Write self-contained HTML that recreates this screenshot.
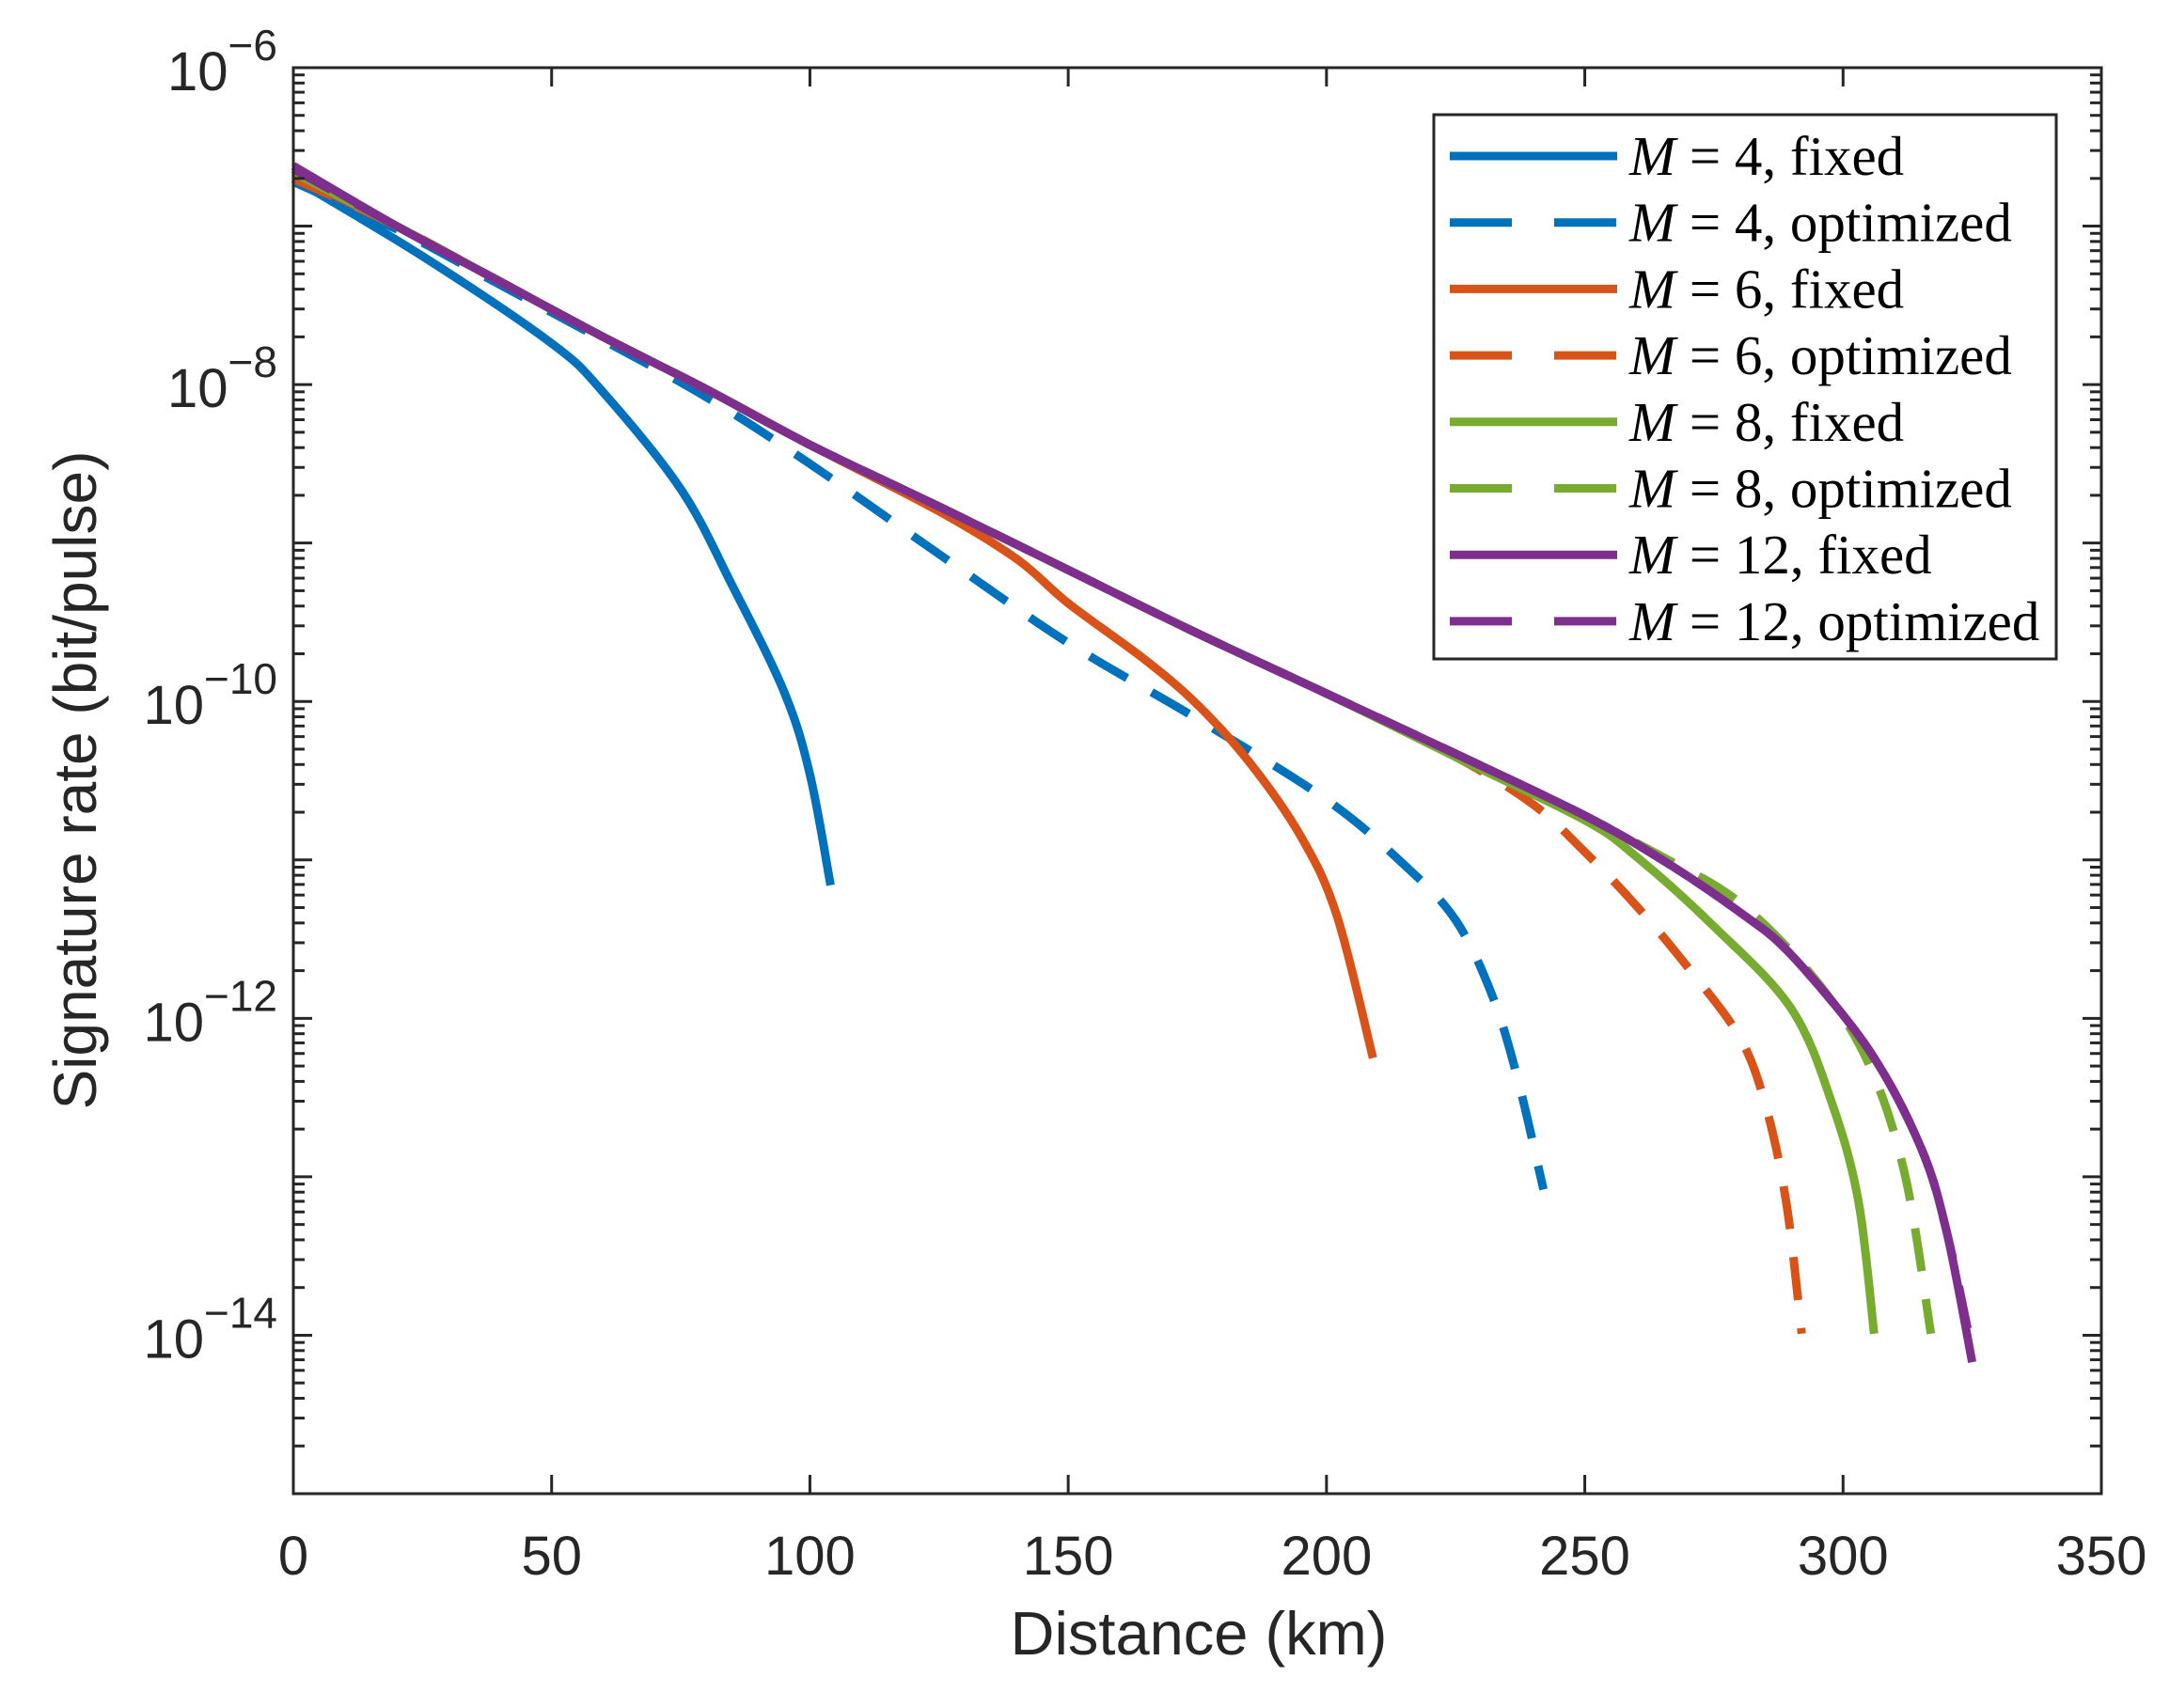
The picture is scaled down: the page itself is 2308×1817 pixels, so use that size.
<!DOCTYPE html>
<html><head><meta charset="utf-8"><style>
body{margin:0;background:#fff}
svg{display:block}
text{font-family:"Liberation Sans",Arial,sans-serif;fill:#262626}
.leg{font-family:"Liberation Serif",serif;fill:#000;font-size:59px}
</style></head><body>
<svg id="chart" width="2308" height="1817" viewBox="0 0 2308 1817" xmlns="http://www.w3.org/2000/svg">
<g id="series"></g>
<rect x="312" y="72" width="1923" height="1517" fill="none" stroke="#262626" stroke-width="3"/>
<g id="ticks"></g>
<text x="1275" y="1760" font-size="65" text-anchor="middle">Distance (km)</text>
<text transform="translate(102,830) rotate(-90)" font-size="64" text-anchor="middle">Signature rate (bit/pulse)</text>
<g id="legend"></g>
</svg>
<script>
const xTicks=[0,50,100,150,200,250,300,350];
const yDecades=[-6,-8,-10,-12,-14];
const seriesNames=["M = 4, fixed","M = 4, optimized","M = 6, fixed","M = 6, optimized","M = 8, fixed","M = 8, optimized","M = 12, fixed","M = 12, optimized"];
const seriesColors=["#0072BD","#0072BD","#D95319","#D95319","#77AC30","#77AC30","#7E2F8E","#7E2F8E"];
const seriesDashed=[false,true,false,true,false,true,false,true];
const m4fX=[0,25,50,60,75,85,95,100,104];
const m4fY=[-6.7,-7.19,-7.74,-8.05,-8.66,-9.27,-9.94,-10.46,-11.16];
const m4oX=[0,20,40,60,80,100,125,150,175,200,215,225,232,237,242];
const m4oY=[-6.72,-7.02,-7.37,-7.72,-8.08,-8.5,-9.07,-9.63,-10.11,-10.62,-11.03,-11.38,-11.85,-12.38,-13.08];
const m6fX=[0,20,40,60,80,100,125,140,150,165,175,185,195,202,209];
const m6fY=[-6.68,-7.0,-7.35,-7.7,-8.03,-8.38,-8.8,-9.1,-9.38,-9.74,-10.02,-10.38,-10.85,-11.35,-12.25];
const m6oX=[0,20,40,60,80,100,125,150,175,200,225,240,250,260,270,280,285,289,292];
const m6oY=[-6.7,-7.0,-7.35,-7.7,-8.03,-8.38,-8.77,-9.17,-9.57,-9.95,-10.35,-10.65,-10.95,-11.29,-11.68,-12.12,-12.55,-13.16,-13.99];
const m8fX=[0,20,40,60,80,100,125,150,175,200,225,250,260,275,290,298,303,306];
const m8fY=[-6.66,-7.0,-7.35,-7.7,-8.03,-8.38,-8.77,-9.17,-9.57,-9.95,-10.35,-10.75,-10.98,-11.42,-11.94,-12.55,-13.16,-13.99];
const m8oX=[0,20,40,60,80,100,125,150,175,200,225,250,265,280,295,305,312,317];
const m8oY=[-6.66,-7.0,-7.35,-7.7,-8.03,-8.38,-8.77,-9.17,-9.57,-9.95,-10.33,-10.73,-10.98,-11.27,-11.77,-12.29,-12.99,-13.99];
const m12fX=[0,20,40,60,80,100,125,150,175,200,225,250,265,280,290,305,315,320,325];
const m12fY=[-6.62,-7.0,-7.35,-7.7,-8.03,-8.38,-8.77,-9.17,-9.57,-9.95,-10.33,-10.72,-11.0,-11.33,-11.6,-12.2,-12.81,-13.34,-14.17];
const m12oY=[-6.64,-7.0,-7.35,-7.7,-8.03,-8.38,-8.77,-9.17,-9.57,-9.95,-10.33,-10.72,-11.0,-11.33,-11.6,-12.2,-12.81,-13.34,-14.1];
const seriesX=[m4fX,m4oX,m6fX,m6oX,m8fX,m8oX,m12fX,m12fX];
const seriesY=[m4fY,m4oY,m6fY,m6oY,m8fY,m8oY,m12fY,m12oY];

const L=312,R=2235,T=72,B=1589,yMin=-15,yMax=-6,xMax=350;
const sx=v=>L+(v/xMax)*(R-L);
const sy=lg=>T+(yMax-lg)/(yMax-yMin)*(B-T);
const NS="http://www.w3.org/2000/svg";
function mk(tag,parent){const e=document.createElementNS(NS,tag);parent.appendChild(e);return e;}

const tg=document.getElementById('ticks');
xTicks.forEach(v=>{
  const x=sx(v);
  [[B,B-20],[T,T+20]].forEach(p=>{const l=mk('line',tg);
    
    
    l.setAttribute('x1',x);l.setAttribute('x2',x);l.setAttribute('y1',p[0]);l.setAttribute('y2',p[1]);l.setAttribute('stroke','#262626');l.setAttribute('stroke-width',3);});
  const t=mk('text',tg);
  
  
  t.setAttribute('x',x);t.setAttribute('y',1675);t.setAttribute('font-size',58);t.setAttribute('text-anchor','middle');t.textContent=v;
});
for(let d=-15;d<-6;d++){
  for(let k=1;k<10;k++){
    const lg=d+Math.log10(k);const y=sy(lg);const len=(k===1)?20:12;
    [[L,L+len],[R,R-len]].forEach(p=>{const l=mk('line',tg);
      
      
      l.setAttribute('x1',p[0]);l.setAttribute('x2',p[1]);l.setAttribute('y1',y);l.setAttribute('y2',y);l.setAttribute('stroke','#262626');l.setAttribute('stroke-width',3);});
  }
}
yDecades.forEach(d=>{
  const y=sy(d);const t=mk('text',tg);
  
  
  t.setAttribute('x',295);t.setAttribute('y',y+24);t.setAttribute('font-size',58);t.setAttribute('text-anchor','end');
  const a=mk('tspan',t);a.textContent='10';
  const b=mk('tspan',t);b.setAttribute('dy',-32);b.setAttribute('font-size',46);b.textContent='\u2212'+(-d);
});

function smooth(pts){
  let d='M'+pts[0][0].toFixed(1)+','+pts[0][1].toFixed(1);
  for(let i=0;i<pts.length-1;i++){
    const p0=pts[Math.max(0,i-1)],p1=pts[i],p2=pts[i+1],p3=pts[Math.min(pts.length-1,i+2)];
    const c1=[p1[0]+(p2[0]-p0[0])/6,p1[1]+(p2[1]-p0[1])/6];
    const c2=[p2[0]-(p3[0]-p1[0])/6,p2[1]-(p3[1]-p1[1])/6];
    d+='C'+c1[0].toFixed(1)+','+c1[1].toFixed(1)+' '+c2[0].toFixed(1)+','+c2[1].toFixed(1)+' '+p2[0].toFixed(1)+','+p2[1].toFixed(1);
  }
  return d;
}
const sg=document.getElementById('series');
seriesNames.forEach((n,i)=>{
  const xs=seriesX[i],ys=seriesY[i];
  const p=mk('path',sg);
  
  
  p.setAttribute('d',smooth(xs.map((x,j)=>[sx(x),sy(ys[j])])));
  p.setAttribute('fill','none');p.setAttribute('stroke',seriesColors[i]);
  p.setAttribute('stroke-width',9);p.setAttribute('stroke-linejoin','round');
  if(seriesDashed[i])p.setAttribute('stroke-dasharray','46 30');
});

const lg=document.getElementById('legend');
const box=mk('rect',lg);


box.setAttribute('x',1525);box.setAttribute('y',122);box.setAttribute('width',662);box.setAttribute('height',579);
box.setAttribute('fill','#fff');box.setAttribute('stroke','#262626');box.setAttribute('stroke-width',3);
seriesNames.forEach((n,i)=>{
  const y=166+i*70.7;
  const l=mk('line',lg);
  
  
  l.setAttribute('x1',1542);l.setAttribute('x2',1720);l.setAttribute('y1',y);l.setAttribute('y2',y);
  l.setAttribute('stroke',seriesColors[i]);l.setAttribute('stroke-width',9);
  if(seriesDashed[i])l.setAttribute('stroke-dasharray','66 45');
  const t=mk('text',lg);
  
  
  t.setAttribute('class','leg');t.setAttribute('x',1733);t.setAttribute('y',y+20);
  const m=mk('tspan',t);m.setAttribute('font-style','italic');m.textContent='M';
  const r=mk('tspan',t);r.textContent=n.slice(1);
});
</script>
</body></html>
